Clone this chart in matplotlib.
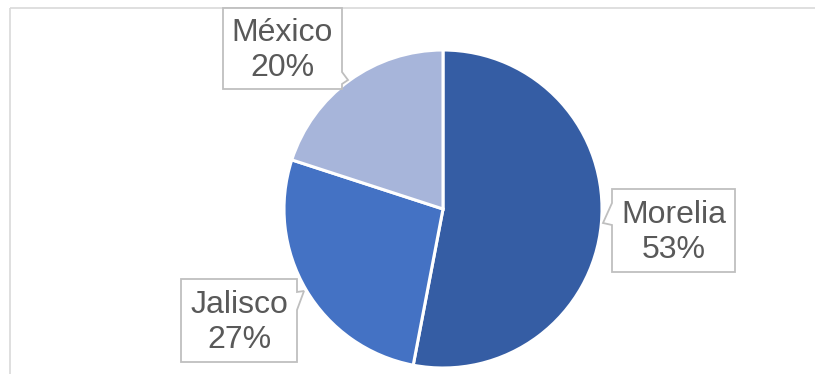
import matplotlib.pyplot as plt
from matplotlib.patches import Polygon

plt.rcParams['font.family'] = ['Liberation Sans', 'DejaVu Sans']

cities = ['Morelia', 'Jalisco', 'México']
shares = [53, 27, 20]
colors = ['#355DA4', '#4472C4', '#A7B5DA']

W, H = 815, 374

def py(y):
	# pixel row (from top) to axes y
	return H - y

fig = plt.figure(figsize=(W / 100, H / 100), dpi=100)
ax = fig.add_axes([0, 0, 1, 1])
ax.set_xlim(0, W)
ax.set_ylim(0, H)
ax.set_aspect('equal')
ax.axis('off')

# chart area border (top and left)
ax.plot([10, W], [py(8), py(8)], color='#D9D9D9', lw=1.2, solid_capstyle='butt')
ax.plot([10, 10], [py(8), 0], color='#D9D9D9', lw=1.2, solid_capstyle='butt')

wedges, _ = ax.pie(shares, colors=colors, startangle=90, counterclock=False,
	center=(443, py(209)), radius=159,
	wedgeprops=dict(edgecolor='white', linewidth=2.2))
ax.set_xlim(0, W)
ax.set_ylim(0, H)

# callout boxes: rectangle plus a little pointer notch
def callout(x0, y0, x1, y1, side, a, b, tip):
	if side == 'left':
		pts = [(x0, y0), (x1, y0), (x1, y1), (x0, y1), (x0, b), tip, (x0, a)]
	else:
		pts = [(x0, y0), (x1, y0), (x1, a), tip, (x1, b), (x1, y1), (x0, y1)]
	pts = [(x, py(y)) for x, y in pts]
	ax.add_patch(Polygon(pts, closed=True, facecolor='white', edgecolor='#BFBFBF', lw=1.3, zorder=3))

boxes = {
	'Morelia': dict(rect=(612, 189, 735, 272), side='left', a=203, b=225, tip=(603, 223)),
	'Jalisco': dict(rect=(181, 279, 297, 362), side='right', a=292, b=310, tip=(304, 291)),
	'México': dict(rect=(223, 8, 342, 89), side='right', a=72, b=84, tip=(348, 80)),
}

total = sum(shares)
for name, val in zip(cities, shares):
	b = boxes[name]
	x0, y0, x1, y1 = b['rect']
	callout(x0, y0, x1, y1, b['side'], b['a'], b['b'], b['tip'])
	ax.text((x0 + x1) / 2, py((y0 + y1) / 2 + 2), f"{name}\n{round(100 * val / total)}%",
		ha='center', va='center', fontsize=23, color='#595959', linespacing=1.22, zorder=4)

fig.savefig('out.png', dpi=100)
